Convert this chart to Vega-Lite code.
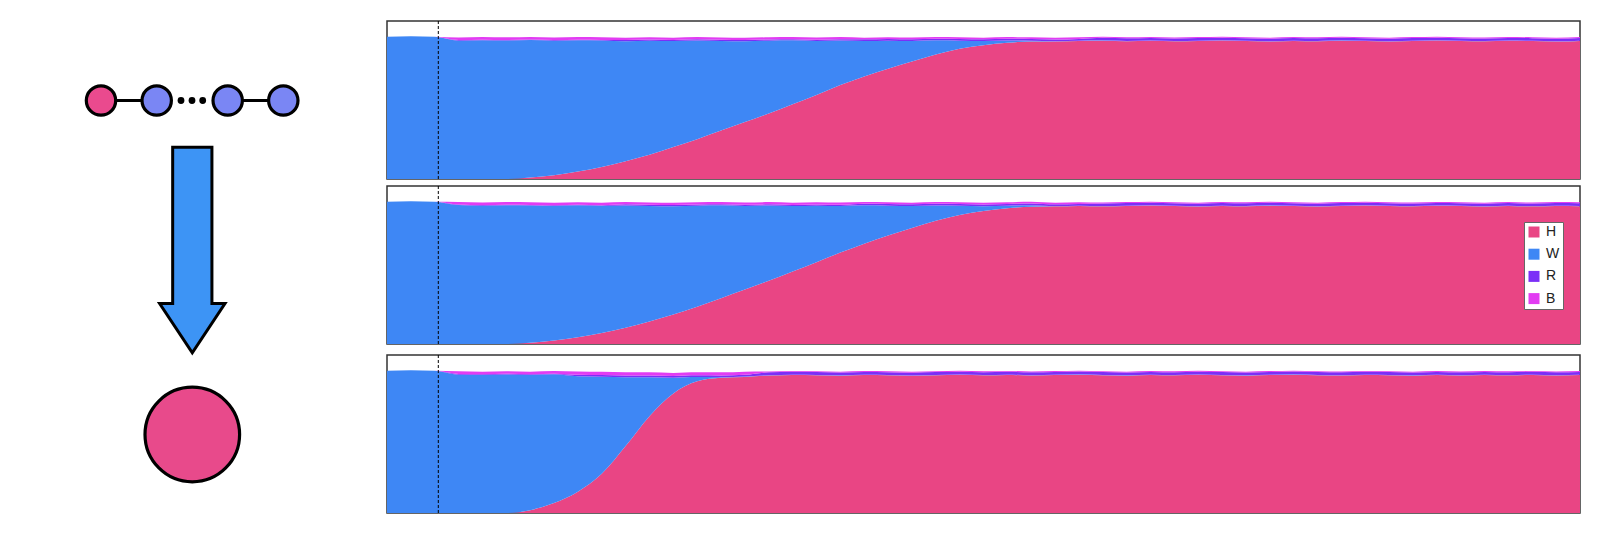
{
  "$schema": "https://vega.github.io/schema/vega-lite/v6.json",
  "background": "white",
  "padding": {"left": 0, "top": 19, "right": 0, "bottom": 0},
  "config": {"view": {"stroke": null}},
  "datasets": {
    "ord": [{"k": "H", "o": 1}, {"k": "W", "o": 2}, {"k": "R", "o": 3}, {"k": "B", "o": 4}],
    "sim": [
      {"p":1,"t":0,"H":0,"W":1.000,"R":0,"B":0},
      {"p":1,"t":20,"H":0,"W":1.003,"R":0,"B":0},
      {"p":1,"t":40,"H":0,"W":0.999,"R":0,"B":0},
      {"p":1,"t":60,"H":0,"W":0.972,"R":0.004,"B":0.018},
      {"p":1,"t":80,"H":0,"W":0.975,"R":0.004,"B":0.018},
      {"p":1,"t":100,"H":0,"W":0.973,"R":0.004,"B":0.018},
      {"p":1,"t":120,"H":0.010,"W":0.966,"R":0.004,"B":0.018},
      {"p":1,"t":140,"H":0.027,"W":0.945,"R":0.004,"B":0.018},
      {"p":1,"t":160,"H":0.052,"W":0.923,"R":0.004,"B":0.018},
      {"p":1,"t":180,"H":0.085,"W":0.888,"R":0.004,"B":0.018},
      {"p":1,"t":200,"H":0.125,"W":0.843,"R":0.008,"B":0.016},
      {"p":1,"t":220,"H":0.170,"W":0.802,"R":0.008,"B":0.016},
      {"p":1,"t":240,"H":0.225,"W":0.744,"R":0.008,"B":0.016},
      {"p":1,"t":260,"H":0.280,"W":0.693,"R":0.008,"B":0.016},
      {"p":1,"t":280,"H":0.340,"W":0.630,"R":0.008,"B":0.016},
      {"p":1,"t":300,"H":0.400,"W":0.568,"R":0.008,"B":0.016},
      {"p":1,"t":320,"H":0.460,"W":0.512,"R":0.008,"B":0.016},
      {"p":1,"t":340,"H":0.525,"W":0.449,"R":0.008,"B":0.016},
      {"p":1,"t":360,"H":0.590,"W":0.380,"R":0.008,"B":0.016},
      {"p":1,"t":380,"H":0.660,"W":0.313,"R":0.008,"B":0.016},
      {"p":1,"t":400,"H":0.720,"W":0.249,"R":0.012,"B":0.012},
      {"p":1,"t":420,"H":0.775,"W":0.197,"R":0.012,"B":0.012},
      {"p":1,"t":440,"H":0.825,"W":0.145,"R":0.012,"B":0.012},
      {"p":1,"t":460,"H":0.875,"W":0.099,"R":0.012,"B":0.012},
      {"p":1,"t":480,"H":0.915,"W":0.057,"R":0.012,"B":0.012},
      {"p":1,"t":500,"H":0.940,"W":0.029,"R":0.012,"B":0.012},
      {"p":1,"t":520,"H":0.957,"W":0.016,"R":0.012,"B":0.012},
      {"p":1,"t":540,"H":0.966,"W":0.005,"R":0.012,"B":0.012},
      {"p":1,"t":560,"H":0.966,"W":0.002,"R":0.012,"B":0.012},
      {"p":1,"t":580,"H":0.970,"W":0.002,"R":0.012,"B":0.012},
      {"p":1,"t":600,"H":0.972,"W":0.002,"R":0.018,"B":0.007},
      {"p":1,"t":620,"H":0.968,"W":0.002,"R":0.018,"B":0.007},
      {"p":1,"t":640,"H":0.971,"W":0.002,"R":0.018,"B":0.007},
      {"p":1,"t":660,"H":0.967,"W":0.002,"R":0.018,"B":0.007},
      {"p":1,"t":680,"H":0.970,"W":0.002,"R":0.018,"B":0.007},
      {"p":1,"t":700,"H":0.973,"W":0.002,"R":0.018,"B":0.007},
      {"p":1,"t":720,"H":0.969,"W":0.002,"R":0.018,"B":0.007},
      {"p":1,"t":740,"H":0.966,"W":0.002,"R":0.018,"B":0.007},
      {"p":1,"t":760,"H":0.970,"W":0.002,"R":0.018,"B":0.007},
      {"p":1,"t":780,"H":0.968,"W":0.002,"R":0.018,"B":0.007},
      {"p":1,"t":800,"H":0.972,"W":0.002,"R":0.018,"B":0.007},
      {"p":1,"t":820,"H":0.969,"W":0.002,"R":0.018,"B":0.007},
      {"p":1,"t":840,"H":0.966,"W":0.002,"R":0.018,"B":0.007},
      {"p":1,"t":860,"H":0.970,"W":0.002,"R":0.018,"B":0.007},
      {"p":1,"t":880,"H":0.973,"W":0.002,"R":0.018,"B":0.007},
      {"p":1,"t":900,"H":0.969,"W":0.002,"R":0.018,"B":0.007},
      {"p":1,"t":920,"H":0.967,"W":0.002,"R":0.018,"B":0.007},
      {"p":1,"t":940,"H":0.971,"W":0.002,"R":0.018,"B":0.007},
      {"p":1,"t":960,"H":0.969,"W":0.002,"R":0.018,"B":0.007},
      {"p":1,"t":980,"H":0.966,"W":0.002,"R":0.018,"B":0.007},
      {"p":1,"t":1000,"H":0.970,"W":0.002,"R":0.018,"B":0.007},

      {"p":2,"t":0,"H":0,"W":1.000,"R":0,"B":0},
      {"p":2,"t":20,"H":0,"W":1.003,"R":0,"B":0},
      {"p":2,"t":40,"H":0,"W":0.999,"R":0,"B":0},
      {"p":2,"t":60,"H":0,"W":0.976,"R":0.004,"B":0.018},
      {"p":2,"t":80,"H":0,"W":0.972,"R":0.004,"B":0.018},
      {"p":2,"t":100,"H":0,"W":0.975,"R":0.004,"B":0.018},
      {"p":2,"t":120,"H":0.008,"W":0.965,"R":0.004,"B":0.018},
      {"p":2,"t":140,"H":0.024,"W":0.946,"R":0.004,"B":0.018},
      {"p":2,"t":160,"H":0.048,"W":0.926,"R":0.004,"B":0.018},
      {"p":2,"t":180,"H":0.078,"W":0.893,"R":0.004,"B":0.018},
      {"p":2,"t":200,"H":0.115,"W":0.858,"R":0.008,"B":0.016},
      {"p":2,"t":220,"H":0.158,"W":0.812,"R":0.008,"B":0.016},
      {"p":2,"t":240,"H":0.207,"W":0.761,"R":0.008,"B":0.016},
      {"p":2,"t":260,"H":0.262,"W":0.710,"R":0.008,"B":0.016},
      {"p":2,"t":280,"H":0.322,"W":0.652,"R":0.008,"B":0.016},
      {"p":2,"t":300,"H":0.383,"W":0.587,"R":0.008,"B":0.016},
      {"p":2,"t":320,"H":0.445,"W":0.528,"R":0.008,"B":0.016},
      {"p":2,"t":340,"H":0.510,"W":0.459,"R":0.008,"B":0.016},
      {"p":2,"t":360,"H":0.575,"W":0.397,"R":0.008,"B":0.016},
      {"p":2,"t":380,"H":0.642,"W":0.328,"R":0.008,"B":0.016},
      {"p":2,"t":400,"H":0.705,"W":0.269,"R":0.012,"B":0.012},
      {"p":2,"t":420,"H":0.763,"W":0.209,"R":0.012,"B":0.012},
      {"p":2,"t":440,"H":0.815,"W":0.154,"R":0.012,"B":0.012},
      {"p":2,"t":460,"H":0.865,"W":0.108,"R":0.012,"B":0.012},
      {"p":2,"t":480,"H":0.907,"W":0.064,"R":0.012,"B":0.012},
      {"p":2,"t":500,"H":0.935,"W":0.033,"R":0.012,"B":0.012},
      {"p":2,"t":520,"H":0.954,"W":0.018,"R":0.012,"B":0.012},
      {"p":2,"t":540,"H":0.964,"W":0.011,"R":0.012,"B":0.012},
      {"p":2,"t":560,"H":0.967,"W":0.002,"R":0.012,"B":0.012},
      {"p":2,"t":580,"H":0.970,"W":0.002,"R":0.012,"B":0.012},
      {"p":2,"t":600,"H":0.967,"W":0.002,"R":0.018,"B":0.007},
      {"p":2,"t":620,"H":0.970,"W":0.002,"R":0.018,"B":0.007},
      {"p":2,"t":640,"H":0.973,"W":0.002,"R":0.018,"B":0.007},
      {"p":2,"t":660,"H":0.969,"W":0.002,"R":0.018,"B":0.007},
      {"p":2,"t":680,"H":0.966,"W":0.002,"R":0.018,"B":0.007},
      {"p":2,"t":700,"H":0.970,"W":0.002,"R":0.018,"B":0.007},
      {"p":2,"t":720,"H":0.968,"W":0.002,"R":0.018,"B":0.007},
      {"p":2,"t":740,"H":0.972,"W":0.002,"R":0.018,"B":0.007},
      {"p":2,"t":760,"H":0.969,"W":0.002,"R":0.018,"B":0.007},
      {"p":2,"t":780,"H":0.966,"W":0.002,"R":0.018,"B":0.007},
      {"p":2,"t":800,"H":0.970,"W":0.002,"R":0.018,"B":0.007},
      {"p":2,"t":820,"H":0.973,"W":0.002,"R":0.018,"B":0.007},
      {"p":2,"t":840,"H":0.969,"W":0.002,"R":0.018,"B":0.007},
      {"p":2,"t":860,"H":0.967,"W":0.002,"R":0.018,"B":0.007},
      {"p":2,"t":880,"H":0.971,"W":0.002,"R":0.018,"B":0.007},
      {"p":2,"t":900,"H":0.969,"W":0.002,"R":0.018,"B":0.007},
      {"p":2,"t":920,"H":0.966,"W":0.002,"R":0.018,"B":0.007},
      {"p":2,"t":940,"H":0.970,"W":0.002,"R":0.018,"B":0.007},
      {"p":2,"t":960,"H":0.967,"W":0.002,"R":0.018,"B":0.007},
      {"p":2,"t":980,"H":0.970,"W":0.002,"R":0.018,"B":0.007},
      {"p":2,"t":1000,"H":0.968,"W":0.002,"R":0.018,"B":0.007},

      {"p":3,"t":0,"H":0,"W":1.000,"R":0,"B":0},
      {"p":3,"t":20,"H":0,"W":1.003,"R":0,"B":0},
      {"p":3,"t":40,"H":0,"W":0.999,"R":0,"B":0},
      {"p":3,"t":60,"H":0,"W":0.972,"R":0.005,"B":0.018},
      {"p":3,"t":80,"H":0,"W":0.969,"R":0.005,"B":0.018},
      {"p":3,"t":100,"H":0,"W":0.973,"R":0.005,"B":0.018},
      {"p":3,"t":120,"H":0.020,"W":0.950,"R":0.005,"B":0.018},
      {"p":3,"t":140,"H":0.070,"W":0.904,"R":0.005,"B":0.018},
      {"p":3,"t":160,"H":0.150,"W":0.810,"R":0.012,"B":0.022},
      {"p":3,"t":180,"H":0.275,"W":0.683,"R":0.012,"B":0.022},
      {"p":3,"t":200,"H":0.470,"W":0.484,"R":0.012,"B":0.022},
      {"p":3,"t":220,"H":0.680,"W":0.274,"R":0.012,"B":0.022},
      {"p":3,"t":240,"H":0.840,"W":0.110,"R":0.012,"B":0.022},
      {"p":3,"t":260,"H":0.925,"W":0.030,"R":0.012,"B":0.022},
      {"p":3,"t":280,"H":0.950,"W":0.004,"R":0.012,"B":0.022},
      {"p":3,"t":300,"H":0.956,"W":0.003,"R":0.012,"B":0.022},
      {"p":3,"t":320,"H":0.966,"W":0.002,"R":0.020,"B":0.006},
      {"p":3,"t":340,"H":0.970,"W":0.002,"R":0.020,"B":0.006},
      {"p":3,"t":360,"H":0.968,"W":0.002,"R":0.020,"B":0.006},
      {"p":3,"t":380,"H":0.965,"W":0.002,"R":0.020,"B":0.006},
      {"p":3,"t":400,"H":0.969,"W":0.002,"R":0.020,"B":0.006},
      {"p":3,"t":420,"H":0.967,"W":0.002,"R":0.020,"B":0.006},
      {"p":3,"t":440,"H":0.964,"W":0.002,"R":0.020,"B":0.006},
      {"p":3,"t":460,"H":0.968,"W":0.002,"R":0.020,"B":0.006},
      {"p":3,"t":480,"H":0.971,"W":0.002,"R":0.020,"B":0.006},
      {"p":3,"t":500,"H":0.967,"W":0.002,"R":0.020,"B":0.006},
      {"p":3,"t":520,"H":0.970,"W":0.002,"R":0.020,"B":0.006},
      {"p":3,"t":540,"H":0.966,"W":0.002,"R":0.020,"B":0.006},
      {"p":3,"t":560,"H":0.969,"W":0.002,"R":0.020,"B":0.006},
      {"p":3,"t":580,"H":0.972,"W":0.002,"R":0.020,"B":0.006},
      {"p":3,"t":600,"H":0.968,"W":0.002,"R":0.020,"B":0.006},
      {"p":3,"t":620,"H":0.965,"W":0.002,"R":0.020,"B":0.006},
      {"p":3,"t":640,"H":0.969,"W":0.002,"R":0.020,"B":0.006},
      {"p":3,"t":660,"H":0.967,"W":0.002,"R":0.020,"B":0.006},
      {"p":3,"t":680,"H":0.971,"W":0.002,"R":0.020,"B":0.006},
      {"p":3,"t":700,"H":0.968,"W":0.002,"R":0.020,"B":0.006},
      {"p":3,"t":720,"H":0.965,"W":0.002,"R":0.020,"B":0.006},
      {"p":3,"t":740,"H":0.969,"W":0.002,"R":0.020,"B":0.006},
      {"p":3,"t":760,"H":0.972,"W":0.002,"R":0.020,"B":0.006},
      {"p":3,"t":780,"H":0.968,"W":0.002,"R":0.020,"B":0.006},
      {"p":3,"t":800,"H":0.966,"W":0.002,"R":0.020,"B":0.006},
      {"p":3,"t":820,"H":0.970,"W":0.002,"R":0.020,"B":0.006},
      {"p":3,"t":840,"H":0.968,"W":0.002,"R":0.020,"B":0.006},
      {"p":3,"t":860,"H":0.965,"W":0.002,"R":0.020,"B":0.006},
      {"p":3,"t":880,"H":0.969,"W":0.002,"R":0.020,"B":0.006},
      {"p":3,"t":900,"H":0.966,"W":0.002,"R":0.020,"B":0.006},
      {"p":3,"t":920,"H":0.969,"W":0.002,"R":0.020,"B":0.006},
      {"p":3,"t":940,"H":0.967,"W":0.002,"R":0.020,"B":0.006},
      {"p":3,"t":960,"H":0.970,"W":0.002,"R":0.020,"B":0.006},
      {"p":3,"t":980,"H":0.966,"W":0.002,"R":0.020,"B":0.006},
      {"p":3,"t":1000,"H":0.969,"W":0.002,"R":0.020,"B":0.006}
    ]
  },
  "spacing": 0,
  "resolve": {"scale": {"color": "independent"}, "legend": {"color": "independent"}},
  "hconcat": [
    {
      "width": 386,
      "height": 490,
      "encoding": {
        "x": {"field": "x", "type": "quantitative", "axis": null, "scale": {"domain": [0, 38.6], "nice": false, "zero": false}},
        "y": {"field": "y", "type": "quantitative", "axis": null, "scale": {"domain": [2, 51], "reverse": true, "nice": false, "zero": false}}
      },
      "layer": [
        {
          "data": {"values": [{"x": 10.1, "x2": 15.67, "y": 9.95}, {"x": 22.77, "x2": 28.33, "y": 9.95}]},
          "mark": {"type": "rule", "color": "black", "strokeWidth": 3},
          "encoding": {"x2": {"field": "x2"}}
        },
        {
          "data": {"values": [{"x": 18.1, "y": 9.95}, {"x": 19.2, "y": 9.95}, {"x": 20.27, "y": 9.95}]},
          "mark": {"type": "point", "shape": "circle", "filled": true, "size": 46, "color": "black", "opacity": 1}
        },
        {
          "data": {"values": [{"x": 10.1, "y": 9.95}]},
          "mark": {"type": "point", "shape": "circle", "filled": true, "size": 864, "fill": "#ea4a8e", "stroke": "black", "strokeWidth": 3.2, "opacity": 1}
        },
        {
          "data": {"values": [{"x": 15.67, "y": 9.95}, {"x": 22.77, "y": 9.95}, {"x": 28.33, "y": 9.95}]},
          "mark": {"type": "point", "shape": "circle", "filled": true, "size": 864, "fill": "#7a86f4", "stroke": "black", "strokeWidth": 3.2, "opacity": 1}
        },
        {
          "data": {"values": [{"x": 19.23, "y": 24.9}]},
          "mark": {"type": "point", "shape": "M -0.191 -1 L 0.191 -1 L 0.191 0.521 L 0.318 0.521 L 0 1 L -0.318 0.521 L -0.191 0.521 Z", "filled": true, "size": 42230, "fill": "#3d94f5", "stroke": "black", "strokeWidth": 3, "opacity": 1}
        },
        {
          "data": {"values": [{"x": 19.23, "y": 43.35}]},
          "mark": {"type": "point", "shape": "circle", "filled": true, "size": 8949, "fill": "#e84a8b", "stroke": "black", "strokeWidth": 3.2, "opacity": 1}
        }
      ]
    },
    {
      "spacing": 7,
      "resolve": {"scale": {"color": "independent"}, "legend": {"color": "independent"}},
      "vconcat": [
        {
          "spacing": 3,
          "resolve": {"scale": {"color": "independent"}, "legend": {"color": "independent"}},
          "vconcat": [
            {
              "width": 1193, "height": 158,
              "view": {"stroke": "#333333", "strokeWidth": 1.5},
              "layer": [
                {
                  "data": {"name": "sim"},
                  "transform": [
                    {"filter": {"field": "p", "equal": 1}},
                    {"fold": ["H", "W", "R", "B"], "as": ["k", "v"]},
                    {"lookup": "k", "from": {"data": {"name": "ord"}, "key": "k", "fields": ["o"]}}
                  ],
                  "mark": {"type": "area", "interpolate": "monotone"},
                  "encoding": {
                    "x": {"field": "t", "type": "quantitative", "axis": null, "scale": {"domain": [0, 1000], "nice": false, "zero": false}},
                    "y": {"field": "v", "type": "quantitative", "stack": "zero", "axis": null, "scale": {"domain": [0, 1.11], "nice": false}},
                    "color": {"field": "k", "type": "nominal", "legend": null, "scale": {"domain": ["H", "W", "R", "B"], "range": ["#e94584", "#3e87f5", "#7b2ff7", "#e23cf2"]}},
                    "order": {"field": "o", "type": "quantitative", "sort": "ascending"}
                  }
                },
                {
                  "data": {"values": [{"t": 43}]},
                  "mark": {"type": "rule", "color": "black", "strokeWidth": 1, "strokeDash": [3, 2]},
                  "encoding": {"x": {"field": "t", "type": "quantitative"}}
                }
              ]
            },
            {
              "width": 1193, "height": 158,
              "view": {"stroke": "#333333", "strokeWidth": 1.5},
              "layer": [
                {
                  "data": {"name": "sim"},
                  "transform": [
                    {"filter": {"field": "p", "equal": 2}},
                    {"fold": ["H", "W", "R", "B"], "as": ["k", "v"]},
                    {"lookup": "k", "from": {"data": {"name": "ord"}, "key": "k", "fields": ["o"]}}
                  ],
                  "mark": {"type": "area", "interpolate": "monotone"},
                  "encoding": {
                    "x": {"field": "t", "type": "quantitative", "axis": null, "scale": {"domain": [0, 1000], "nice": false, "zero": false}},
                    "y": {"field": "v", "type": "quantitative", "stack": "zero", "axis": null, "scale": {"domain": [0, 1.11], "nice": false}},
                    "color": {
                      "field": "k", "type": "nominal",
                      "scale": {"domain": ["H", "W", "R", "B"], "range": ["#e94584", "#3e87f5", "#7b2ff7", "#e23cf2"]},
                      "legend": {
                        "orient": "none", "legendX": 1137, "legendY": 36,
                        "title": null, "symbolType": "square", "symbolSize": 121,
                        "symbolStrokeWidth": 0,
                        "labelFont": "Liberation Sans", "labelFontSize": 14, "labelColor": "#222222",
                        "labelOffset": 5, "rowPadding": 8.2, "padding": 3,
                        "fillColor": "white", "strokeColor": "#666666", "cornerRadius": 0
                      }
                    },
                    "order": {"field": "o", "type": "quantitative", "sort": "ascending"}
                  }
                },
                {
                  "data": {"values": [{"t": 43}]},
                  "mark": {"type": "rule", "color": "black", "strokeWidth": 1, "strokeDash": [3, 2]},
                  "encoding": {"x": {"field": "t", "type": "quantitative"}}
                }
              ]
            }
          ]
        },
        {
          "width": 1193, "height": 158,
          "view": {"stroke": "#333333", "strokeWidth": 1.5},
          "layer": [
            {
              "data": {"name": "sim"},
              "transform": [
                {"filter": {"field": "p", "equal": 3}},
                {"fold": ["H", "W", "R", "B"], "as": ["k", "v"]},
                {"lookup": "k", "from": {"data": {"name": "ord"}, "key": "k", "fields": ["o"]}}
              ],
              "mark": {"type": "area", "interpolate": "monotone"},
              "encoding": {
                "x": {"field": "t", "type": "quantitative", "axis": null, "scale": {"domain": [0, 1000], "nice": false, "zero": false}},
                "y": {"field": "v", "type": "quantitative", "stack": "zero", "axis": null, "scale": {"domain": [0, 1.11], "nice": false}},
                "color": {"field": "k", "type": "nominal", "legend": null, "scale": {"domain": ["H", "W", "R", "B"], "range": ["#e94584", "#3e87f5", "#7b2ff7", "#e23cf2"]}},
                "order": {"field": "o", "type": "quantitative", "sort": "ascending"}
              }
            },
            {
              "data": {"values": [{"t": 43}]},
              "mark": {"type": "rule", "color": "black", "strokeWidth": 1, "strokeDash": [3, 2]},
              "encoding": {"x": {"field": "t", "type": "quantitative"}}
            }
          ]
        }
      ]
    }
  ]
}
